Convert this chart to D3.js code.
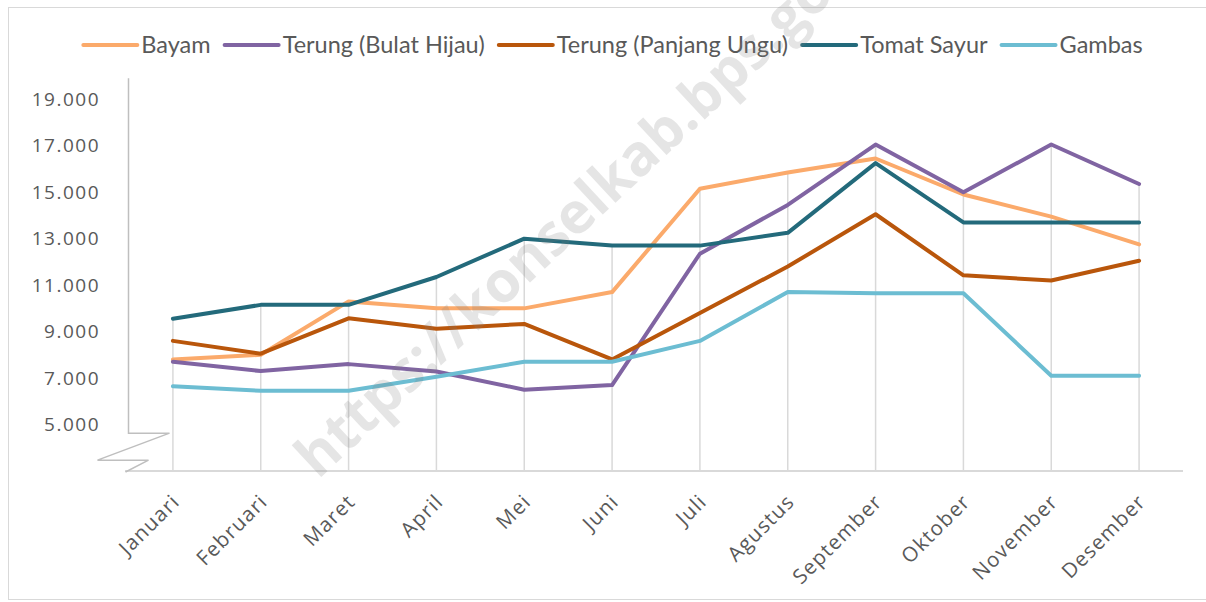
<!DOCTYPE html>
<html>
<head>
<meta charset="utf-8">
<script src="https://cdn.jsdelivr.net/npm/d3@7"></script>
<style>
  body { margin: 0; background: #fff; }
  svg { display: block; }
</style>
</head>
<body>
<script>
var months = ["Januari", "Februari", "Maret", "April", "Mei", "Juni", "Juli",
  "Agustus", "September", "Oktober", "November", "Desember"];

var seriesNames = ["Bayam", "Terung (Bulat Hijau)", "Terung (Panjang Ungu)", "Tomat Sayur", "Gambas"];
var seriesColors = ["#fbaa6b", "#8064a2", "#b9560b", "#236a7b", "#6cbdd2"];

var bayam        = [7800, 8000, 10300, 10000, 10000, 10700, 15150, 15850, 16450, 14900, 13950, 12750];
var terungBulat  = [7700, 7300, 7600, 7280, 6500, 6700, 12350, 14450, 17050, 15000, 17050, 15350];
var terungPanjang = [8600, 8050, 9570, 9120, 9330, 7800, 9800, 11800, 14050, 11420, 11200, 12050];
var tomatSayur   = [9550, 10150, 10150, 11350, 13000, 12700, 12700, 13250, 16250, 13700, 13700, 13700];
var gambas       = [6650, 6450, 6450, 7060, 7700, 7700, 8600, 10700, 10650, 10650, 7100, 7100];

var yTicks = [5000, 7000, 9000, 11000, 13000, 15000, 17000, 19000];

var width = 1206,
    height = 602;

var allSeries = [bayam, terungBulat, terungPanjang, tomatSayur, gambas];

var x = d3.scaleBand().domain(months).range([129, 1183]);
var y = d3.scaleLinear().domain([3000, 20000]).range([471, 76]);

function cx(m) { return x(m) + x.bandwidth() / 2; }

var svg = d3.select("body").append("svg")
    .attr("width", width)
    .attr("height", height);

// chart border
svg.append("rect")
    .attr("x", 8.5).attr("y", 7.5)
    .attr("width", 1200).attr("height", 592)
    .attr("fill", "none")
    .attr("stroke", "#d9d9d9");

// drop lines from the highest value down to the axis
svg.append("g").selectAll("line")
    .data(months)
  .enter().append("line")
    .attr("x1", cx).attr("x2", cx)
    .attr("y1", y(3000))
    .attr("y2", function(m, i) {
      return y(d3.max(allSeries, function(s) { return s[i]; }));
    })
    .attr("stroke", "#d9d9d9")
    .attr("stroke-width", 1.5);

// category axis baseline
svg.append("line")
    .attr("x1", 125).attr("x2", 1183)
    .attr("y1", y(3000)).attr("y2", y(3000))
    .attr("stroke", "#d9d9d9")
    .attr("stroke-width", 2);

// value axis with a break at the bottom
var axisX = 128.5,
    breakY = y(4630);
svg.append("path")
    .attr("d", "M" + axisX + "," + y(19900) + "V" + breakY + "H" + (axisX + 41) +
      "L" + (axisX - 31) + "," + (breakY + 27) + "H" + (axisX + 20) +
      "L" + (axisX - 3) + "," + (y(3000) + 1))
    .attr("fill", "none")
    .attr("stroke", "#bfbfbf")
    .attr("stroke-width", 1.5);

var fmt = function(v) { return d3.format(",")(v).replace(/,/g, "."); };

svg.append("g").selectAll("text")
    .data(yTicks)
  .enter().append("text")
    .attr("x", 100)
    .attr("y", function(d) { return y(d); })
    .attr("dy", "0.35em")
    .attr("text-anchor", "end")
    .attr("font-family", "'Open Sans', sans-serif")
    .attr("font-size", 19)
    .attr("letter-spacing", 1.5)
    .attr("fill", "#595959")
    .text(fmt);

svg.append("g").selectAll("text")
    .data(months)
  .enter().append("text")
    .attr("transform", function(m) {
      return "translate(" + (cx(m) + 8) + "," + 503 + ") rotate(-45)";
    })
    .attr("text-anchor", "end")
    .attr("font-family", "'Open Sans', sans-serif")
    .attr("font-size", 20.5)
    .attr("letter-spacing", 1.2)
    .attr("fill", "#595959")
    .text(function(m) { return m; });

// series lines
var line = d3.line()
    .x(function(v, i) { return cx(months[i]); })
    .y(function(v) { return y(v); });

svg.append("g").selectAll("path")
    .data(allSeries)
  .enter().append("path")
    .attr("d", line)
    .attr("fill", "none")
    .attr("stroke", function(s, i) { return seriesColors[i]; })
    .attr("stroke-width", 4)
    .attr("stroke-linejoin", "round")
    .attr("stroke-linecap", "round");

// legend, laid out from the text widths and centred
var sampleLen = 54;
var legend = svg.append("g");
var items = legend.selectAll("g")
    .data(seriesNames)
  .enter().append("g");

items.append("line")
    .attr("x1", 0).attr("x2", sampleLen)
    .attr("y1", 45).attr("y2", 45)
    .attr("stroke", function(d, i) { return seriesColors[i]; })
    .attr("stroke-width", 4)
    .attr("stroke-linecap", "round");

items.append("text")
    .attr("x", sampleLen + 4)
    .attr("y", 45)
    .attr("dy", "0.35em")
    .attr("font-family", "Lato, sans-serif")
    .attr("font-size", 23.5)
    .attr("fill", "#595959")
    .text(function(d) { return d; });

var offset = 0;
items.each(function() {
  var w = this.querySelector("text").getComputedTextLength() + sampleLen + 4;
  d3.select(this).attr("transform", "translate(" + offset + ",0)");
  offset += w + 14;
});
legend.attr("transform", "translate(" + (613 - (offset - 14) / 2) + ",0)");

// watermark
svg.append("text")
    .attr("transform", "translate(318,480) rotate(-43)")
    .attr("font-family", "'Open Sans', sans-serif")
    .attr("font-weight", "bold")
    .attr("font-size", 57)
    .attr("fill", "#7f7f7f")
    .attr("opacity", 0.2)
    .text("https://konselkab.bps.go.id");
</script>
</body>
</html>
